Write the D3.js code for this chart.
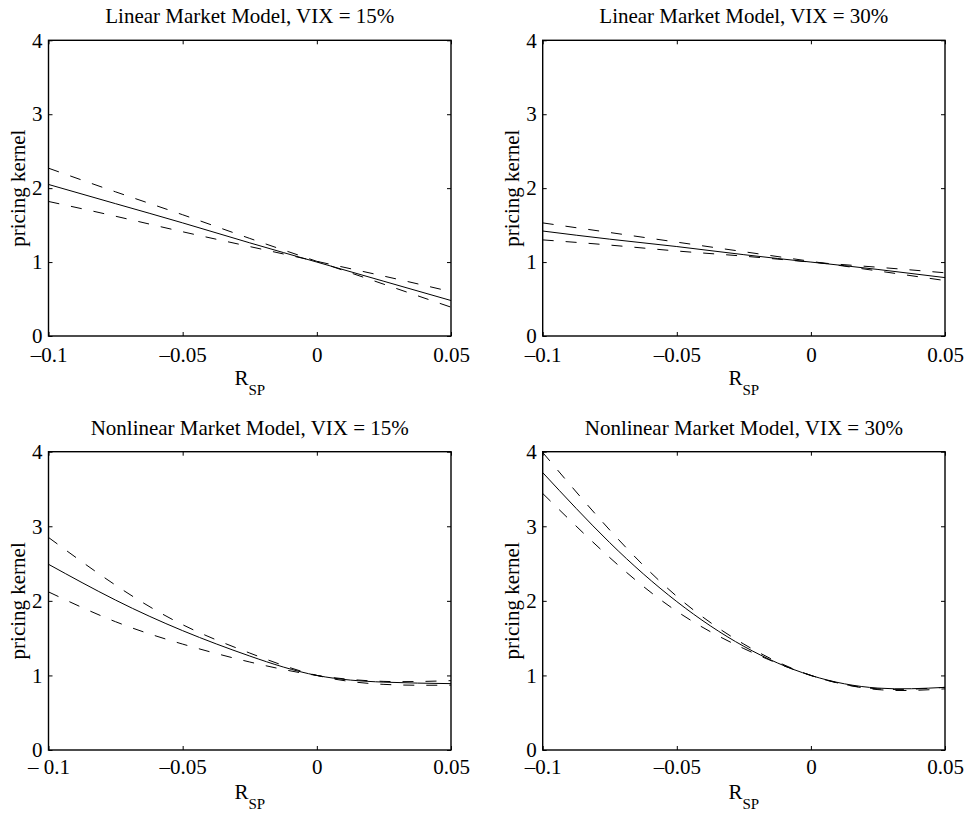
<!DOCTYPE html>
<html>
<head>
<meta charset="utf-8">
<script src="https://cdn.jsdelivr.net/npm/d3@7"></script>
<style>
  body { margin: 0; background: #fff; }
  svg { display: block; }
</style>
</head>
<body>
<script>
//-----------------------------------------------------------------------------
// DATA
var rGrid = [-0.1, -0.075, -0.05, -0.025, 0, 0.025, 0.05];

var xTicks = [-0.1, -0.05, 0, 0.05];
var xTickLabels = ["\u20130.1", "\u20130.05", "0", "0.05"];
var xTickLabelsAlt = ["\u2013 0.1", "\u20130.05", "0", "0.05"];
var yTicks = [0, 1, 2, 3, 4];

var titles = [
  "Linear Market Model, VIX = 15%",
  "Linear Market Model, VIX = 30%",
  "Nonlinear Market Model, VIX = 15%",
  "Nonlinear Market Model, VIX = 30%"
];

// linear, VIX 15
var lin15 = [2.05, 1.79, 1.53, 1.26, 1.00, 0.74, 0.48];
var lin15A = [2.27, 1.95, 1.64, 1.32, 1.01, 0.70, 0.39];
var lin15B = [1.82, 1.62, 1.41, 1.21, 1.01, 0.81, 0.60];
// linear, VIX 30
var lin30 = [1.42, 1.31, 1.21, 1.10, 1.00, 0.90, 0.79];
var lin30A = [1.53, 1.40, 1.27, 1.14, 1.01, 0.88, 0.75];
var lin30B = [1.30, 1.23, 1.15, 1.08, 1.00, 0.93, 0.855];
// nonlinear, VIX 15
var nl15 = [2.49, 2.01, 1.60, 1.26, 1.00, 0.91, 0.89];
var nl15A = [2.85, 2.21, 1.68, 1.30, 1.00, 0.88, 0.87];
var nl15B = [2.12, 1.72, 1.42, 1.18, 1.00, 0.92, 0.93];
// nonlinear, VIX 30
var nl30 = [3.72, 2.78, 1.99, 1.39, 1.00, 0.83, 0.84];
var nl30A = [3.99, 2.95, 2.06, 1.42, 1.00, 0.82, 0.84];
var nl30B = [3.44, 2.58, 1.86, 1.36, 1.00, 0.81, 0.82];

//-----------------------------------------------------------------------------
// LAYOUT
var W = 967, H = 813;
var FONT = "'Liberation Serif', 'Times New Roman', serif";
var cols = [[48.5, 451], [542.7, 945]];
var rows = [[40.3, 336], [451.7, 750]];

var panels = [
  {col: 0, row: 0, title: titles[0], mid: lin15, a: lin15A, b: lin15B, xlab: xTickLabels, pad: 11},
  {col: 1, row: 0, title: titles[1], mid: lin30, a: lin30A, b: lin30B, xlab: xTickLabels, pad: 11},
  {col: 0, row: 1, title: titles[2], mid: nl15, a: nl15A, b: nl15B, xlab: xTickLabelsAlt, pad: 9},
  {col: 1, row: 1, title: titles[3], mid: nl30, a: nl30A, b: nl30B, xlab: xTickLabels, pad: 9}
];

var svg = d3.select("body").append("svg")
  .attr("width", W)
  .attr("height", H);

//-----------------------------------------------------------------------------
// PANELS
panels.forEach(function(p, i){
  var left = cols[p.col][0], right = cols[p.col][1];
  var top = rows[p.row][0], bottom = rows[p.row][1];

  var x = d3.scaleLinear().domain([-0.1, 0.05]).range([left, right]);
  var y = d3.scaleLinear().domain([0, 4]).range([bottom, top]);

  var g = svg.append("g");

  g.append("clipPath").attr("id", "clip" + i)
    .append("rect")
    .attr("x", left).attr("y", top)
    .attr("width", right - left).attr("height", bottom - top);

  // axes, ticks pointing inwards
  var ax = [
    {axis: d3.axisBottom(x).tickValues(xTicks).tickFormat(function(d, k){ return p.xlab[k]; }).tickPadding(p.pad), tr: "translate(0," + bottom + ")"},
    {axis: d3.axisTop(x).tickValues(xTicks).tickFormat(""), tr: "translate(0," + top + ")"},
    {axis: d3.axisLeft(y).tickValues(yTicks).tickFormat(d3.format("d")).tickPadding(6), tr: "translate(" + left + ",0)"},
    {axis: d3.axisRight(y).tickValues(yTicks).tickFormat(""), tr: "translate(" + right + ",0)"}
  ];
  ax.forEach(function(a){
    var ag = g.append("g")
      .attr("transform", a.tr)
      .call(a.axis.tickSize(-4).tickSizeOuter(0));
    ag.select(".domain").remove();
    ag.attr("font-family", FONT).attr("font-size", 21);
    ag.selectAll("line").attr("stroke", "#000").attr("stroke-width", 1);
    ag.selectAll("text").attr("fill", "#000");
  });

  // curves
  var line = d3.line()
    .x(function(d, k){ return x(rGrid[k]); })
    .y(function(d){ return y(d); })
    .curve(d3.curveNatural);

  var lines = g.append("g").attr("clip-path", "url(#clip" + i + ")");
  [p.a, p.b].forEach(function(s){
    lines.append("path")
      .attr("d", line(s))
      .attr("fill", "none")
      .attr("stroke", "#000")
      .attr("stroke-width", 1)
      .attr("stroke-dasharray", "11,12");
  });
  lines.append("path")
    .attr("d", line(p.mid))
    .attr("fill", "none")
    .attr("stroke", "#000")
    .attr("stroke-width", 1);

  // box
  g.append("rect")
    .attr("x", left).attr("y", top)
    .attr("width", right - left).attr("height", bottom - top)
    .attr("fill", "none")
    .attr("stroke", "#000")
    .attr("stroke-width", 1.4);

  // title
  g.append("text")
    .attr("x", (left + right) / 2)
    .attr("y", top - 17)
    .attr("text-anchor", "middle")
    .attr("font-family", FONT)
    .attr("font-size", 21)
    .text(p.title);

  // x label R_SP
  var xl = g.append("text")
    .attr("x", (left + right) / 2)
    .attr("y", bottom + 49)
    .attr("text-anchor", "middle")
    .attr("font-family", FONT)
    .attr("font-size", 21);
  xl.append("tspan").text("R");
  xl.append("tspan").attr("font-size", 15).attr("dy", 10).text("SP");

  // y label
  g.append("text")
    .attr("transform", "translate(" + (left - 24) + "," + ((top + bottom) / 2) + ") rotate(-90)")
    .attr("text-anchor", "middle")
    .attr("font-family", FONT)
    .attr("font-size", 21)
    .text("pricing kernel");
});
</script>
</body>
</html>
